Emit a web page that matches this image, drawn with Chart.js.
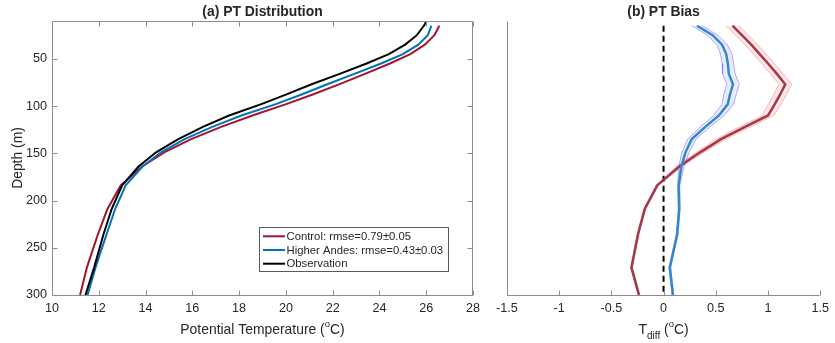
<!DOCTYPE html>
<html>
<head>
<meta charset="utf-8">
<script src="https://cdn.jsdelivr.net/npm/chart.js@4.4.1/dist/chart.umd.min.js"></script>
<style>
html,body{margin:0;padding:0;background:#ffffff;}
#wrap{position:relative;width:835px;height:343px;overflow:hidden;}
#c1{position:absolute;left:0;top:0;}
#c2{position:absolute;left:490px;top:0;}
</style>
</head>
<body>
<div id="wrap">
<canvas id="c1" width="490" height="343"></canvas>
<canvas id="c2" width="345" height="343"></canvas>
</div>
<script>
// ---------------- data ----------------
const depthLevels = [15, 25, 35, 45, 55, 66, 77, 88, 98, 110, 122, 135, 149, 164, 184, 209, 236, 271, 300];
const obsDepth    = [10, 15, 25, 35, 45, 55, 66, 77, 88, 98, 110, 122, 135, 149, 164, 184, 209, 236, 271, 300];
const obsTemp     = [26.02, 25.9, 25.6, 25.1, 24.4, 23.45, 22.3, 21.1, 20.0, 18.95, 17.57, 16.45, 15.4, 14.45, 13.7, 13.0, 12.55, 12.2, 11.8, 11.43];
const controlTemp = [26.56, 26.35, 25.94, 25.32, 24.45, 23.38, 22.27, 21.12, 20.01, 18.57, 17.23, 15.95, 14.8, 13.85, 12.94, 12.37, 11.96, 11.49, 11.2];
const andesTemp   = [26.22, 26.07, 25.66, 25.0, 24.07, 22.93, 21.77, 20.64, 19.57, 18.1, 16.85, 15.67, 14.66, 13.87, 13.15, 12.7, 12.33, 11.86, 11.52];
const controlBias = [0.66, 0.75, 0.84, 0.92, 1.0, 1.085, 1.165, 1.115, 1.065, 1.0, 0.78, 0.55, 0.35, 0.15, -0.06, -0.18, -0.245, -0.307, -0.235];
const andesBias   = [0.32, 0.47, 0.56, 0.60, 0.615, 0.625, 0.665, 0.635, 0.615, 0.53, 0.40, 0.27, 0.21, 0.17, 0.145, 0.15, 0.13, 0.06, 0.09];
const controlSpread = [0.06, 0.06, 0.06, 0.06, 0.06, 0.06, 0.06, 0.06, 0.06, 0.055, 0.05, 0.045, 0.035, 0.025, 0.01, 0.008, 0.008, 0.008, 0.008];
const andesSpread   = [0.05, 0.05, 0.05, 0.055, 0.055, 0.06, 0.06, 0.06, 0.055, 0.05, 0.045, 0.04, 0.035, 0.025, 0.01, 0.008, 0.008, 0.008, 0.008];
const zeroLineDepth = [15, 300];
const tempTicks  = [10, 12, 14, 16, 18, 20, 22, 24, 26, 28];
const biasTicks  = [-1.5, -1, -0.5, 0, 0.5, 1, 1.5];
const depthTicks = [50, 100, 150, 200, 250, 300];
const seriesNames = ['Control: rmse=0.79\u00B10.05', 'Higher Andes: rmse=0.43\u00B10.03', 'Observation'];
const panelTitles = ['(a) PT Distribution', '(b) PT Bias'];

// ---------------- styling ----------------
const FONT = "'Liberation Sans', Arial, Helvetica, sans-serif";
const AX = '#8c8c8c';
const TXT = '#262626';
const RED = '#A2142F', BLUE = '#0072BD';
Chart.defaults.font.family = FONT;
Chart.defaults.color = TXT;

const pts = (xs, ys) => ys.map((y, i) => ({x: xs[i], y: y}));
const add = (a, b, s) => a.map((v, i) => v + s * b[i]);
const snap = v => Math.round(v) + 0.5;

function drawParts(ctx, parts, cx, baseY) {
  let w = 0;
  parts.forEach(p => { ctx.font = (p.bold ? 'bold ' : '') + p.size + 'px ' + FONT; p.w = ctx.measureText(p.t).width; w += p.w; });
  let x = cx - w / 2;
  ctx.textAlign = 'left'; ctx.textBaseline = 'alphabetic'; ctx.fillStyle = TXT;
  parts.forEach(p => { ctx.font = (p.bold ? 'bold ' : '') + p.size + 'px ' + FONT; ctx.fillText(p.t, x, baseY + (p.dy || 0)); x += p.w; });
}

function decor(cfg) {
  return {
    id: 'decor',
    afterDraw(chart) {
      const {ctx, chartArea: a, scales: {x, y}} = chart;
      const L = 5;
      ctx.save();
      ctx.strokeStyle = AX; ctx.lineWidth = 1;
      ctx.beginPath();
      const l = snap(a.left), r = snap(a.right) - 1, t = snap(a.top), b = snap(a.bottom);
      ctx.moveTo(l, t); ctx.lineTo(l, b); ctx.lineTo(r, b);
      if (cfg.box) { ctx.lineTo(r, t); ctx.lineTo(l, t); }
      x.ticks.forEach(tk => {
        const px = snap(x.getPixelForValue(tk.value));
        ctx.moveTo(px, b); ctx.lineTo(px, b - L);
        if (cfg.box) { ctx.moveTo(px, t); ctx.lineTo(px, t + L); }
      });
      if (cfg.yTicks) {
        y.ticks.forEach(tk => {
          const py = snap(y.getPixelForValue(tk.value));
          ctx.moveTo(l, py); ctx.lineTo(l + L, py);
          if (cfg.box) { ctx.moveTo(r, py); ctx.lineTo(r - L, py); }
        });
      }
      ctx.stroke();
      // title
      const cx = (a.left + a.right) / 2;
      drawParts(ctx, [{t: cfg.title, size: 13.9, bold: true}], cx, 16);
      // x label
      drawParts(ctx, cfg.xLabel, cx, 334);
      // y label
      if (cfg.yLabel) {
        ctx.save();
        ctx.translate(21.5, (a.top + a.bottom) / 2);
        ctx.rotate(-Math.PI / 2);
        ctx.font = '13.9px ' + FONT; ctx.fillStyle = TXT;
        ctx.textAlign = 'center'; ctx.textBaseline = 'alphabetic';
        ctx.fillText(cfg.yLabel, 0, 0);
        ctx.restore();
      }
      // legend
      if (cfg.legend) {
        const lg = cfg.legend;
        ctx.fillStyle = '#ffffff';
        ctx.fillRect(lg.x, lg.y, lg.w, lg.h);
        ctx.strokeStyle = '#5a5a5a'; ctx.lineWidth = 1;
        ctx.strokeRect(lg.x + 0.5, lg.y + 0.5, lg.w, lg.h);
        ctx.font = '11.3px ' + FONT; ctx.textAlign = 'left'; ctx.textBaseline = 'middle';
        lg.items.forEach((it, i) => {
          const yy = lg.y + 9.3 + i * 13.7;
          ctx.strokeStyle = it.color; ctx.lineWidth = 2;
          ctx.beginPath(); ctx.moveTo(lg.x + 4, yy); ctx.lineTo(lg.x + 26, yy); ctx.stroke();
          ctx.fillStyle = TXT;
          ctx.fillText(it.label, lg.x + 27.5, yy + 0.5);
        });
      }
      ctx.restore();
    }
  };
}

function baseScales(xMin, xMax, xTicks, yWidth, showY) {
  return {
    x: {
      type: 'linear', position: 'bottom', min: xMin, max: xMax,
      afterBuildTicks: s => { s.ticks = xTicks.map(v => ({value: v})); },
      afterFit: s => { s.height = 48; },
      grid: {display: false, drawTicks: false}, border: {display: false},
      ticks: {padding: 6, color: TXT, font: {size: 12.6}, maxRotation: 0, autoSkip: false, callback: v => String(v)}
    },
    y: {
      type: 'linear', position: 'left', reverse: true, min: 10, max: 300,
      afterBuildTicks: s => { s.ticks = depthTicks.map(v => ({value: v})); },
      afterFit: s => { s.width = yWidth; },
      grid: {display: false, drawTicks: false}, border: {display: false},
      ticks: {display: showY, padding: 5, color: TXT, font: {size: 12.6}, autoSkip: false, callback: v => String(v)}
    }
  };
}

const common = {
  responsive: false, animation: false, indexAxis: 'y',
  elements: {point: {radius: 0, hoverRadius: 0}, line: {tension: 0}},
  plugins: {legend: {display: false}, tooltip: {enabled: false}, title: {display: false}},
  events: []
};

// ---------------- panel (a) ----------------
new Chart(document.getElementById('c1'), {
  type: 'line',
  data: {
    datasets: [
      {label: seriesNames[0], data: pts(controlTemp, depthLevels), borderColor: RED, borderWidth: 2, fill: false, order: 2},
      {label: seriesNames[1], data: pts(andesTemp, depthLevels), borderColor: BLUE, borderWidth: 2, fill: false, order: 1},
      {label: seriesNames[2], data: pts(obsTemp, obsDepth), borderColor: '#000000', borderWidth: 2, fill: false, order: 0}
    ]
  },
  options: Object.assign({}, common, {
    layout: {padding: {top: 21, right: 17, left: 0, bottom: 0}},
    scales: baseScales(10, 28, tempTicks, 52, true)
  }),
  plugins: [decor({
    box: true, yTicks: true, title: panelTitles[0],
    xLabel: [{t: 'Potential Temperature (', size: 13.9}, {t: 'o', size: 9.5, dy: -7}, {t: 'C)', size: 13.9}],
    yLabel: 'Depth (m)',
    legend: {x: 259, y: 227, w: 189, h: 44, items: [
      {label: seriesNames[0], color: RED},
      {label: seriesNames[1], color: BLUE},
      {label: seriesNames[2], color: '#000000'}
    ]}
  })]
});

// ---------------- panel (b) ----------------
new Chart(document.getElementById('c2'), {
  type: 'line',
  data: {
    datasets: [
      {label: 'ctl hi', data: pts(add(controlBias, controlSpread, 1), depthLevels), borderColor: 'rgba(255,120,120,0.55)', borderWidth: 1, backgroundColor: 'rgba(255,190,190,0.35)', fill: '+1', order: 6},
      {label: 'ctl lo', data: pts(add(controlBias, controlSpread, -1), depthLevels), borderColor: 'rgba(255,120,120,0.55)', borderWidth: 1, fill: false, order: 5},
      {label: 'and hi', data: pts(add(andesBias, andesSpread, 1), depthLevels), borderColor: 'rgba(110,110,255,0.55)', borderWidth: 1, backgroundColor: 'rgba(190,190,255,0.3)', fill: '+1', order: 4},
      {label: 'and lo', data: pts(add(andesBias, andesSpread, -1), depthLevels), borderColor: 'rgba(110,110,255,0.55)', borderWidth: 1, fill: false, order: 3},
      {label: 'zero', data: pts([0, 0], zeroLineDepth), borderColor: '#000000', borderWidth: 2, borderDash: [6, 4], fill: false, order: 2},
      {label: seriesNames[0], data: pts(controlBias, depthLevels), borderColor: '#A3384B', borderWidth: 2.5, fill: false, order: 1},
      {label: seriesNames[1], data: pts(andesBias, depthLevels), borderColor: '#3589CA', borderWidth: 2.5, fill: false, order: 0}
    ]
  },
  options: Object.assign({}, common, {
    layout: {padding: {top: 21, right: 10, left: 0, bottom: 0}},
    scales: baseScales(-1.5, 1.5, biasTicks, 14, false)
  }),
  plugins: [decor({
    box: false, yTicks: false, title: panelTitles[1],
    xLabel: [{t: 'T', size: 13.9}, {t: 'diff', size: 10, dy: 4.5}, {t: ' (', size: 13.9}, {t: 'o', size: 9.5, dy: -7}, {t: 'C)', size: 13.9}]
  })]
});
</script>
</body>
</html>
